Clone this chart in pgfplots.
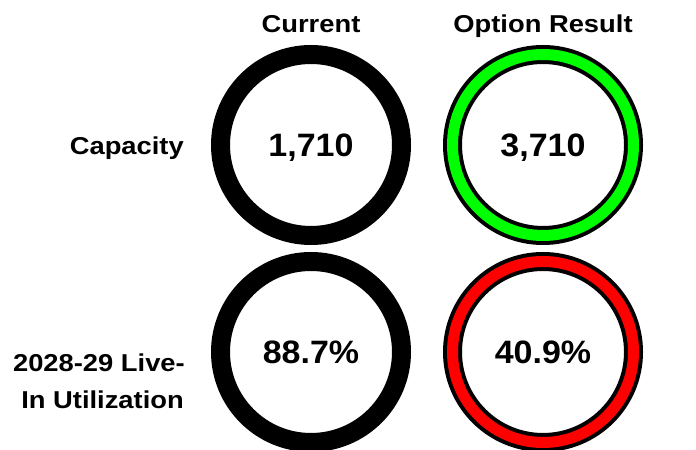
\documentclass[border=0pt]{standalone}
\usepackage{pgfplots}
\pgfplotsset{compat=1.18}
\usepackage{fontspec}
\setmainfont{Liberation Sans}[FakeStretch=1.12]
\newfontfamily\valfont{Liberation Sans}[FakeStretch=1.05]
\definecolor{ringgreen}{RGB}{0,255,0}
\definecolor{ringred}{RGB}{255,0,0}
\begin{document}
\begin{tikzpicture}
\begin{axis}[
  width=696bp, height=450bp, scale only axis,
  xmin=0, xmax=696, ymin=0, ymax=450, y dir=reverse,
  hide axis, clip marker paths=true,
]
% full black rings (outer radius 100, inner radius 81)
\addplot[only marks, mark=o, mark size=90.5bp,
  mark options={solid, draw=black, fill=none, line width=19bp}]
  coordinates {(311,145) (543,145) (311,352) (543,352)};
% coloured bands inside the option rings
\addplot[only marks, mark=o, mark size=90.5bp,
  mark options={solid, draw=ringgreen, fill=none, line width=11bp}]
  coordinates {(543,145)};
\addplot[only marks, mark=o, mark size=90.5bp,
  mark options={solid, draw=ringred, fill=none, line width=11bp}]
  coordinates {(543,352)};
% values
\addplot[only marks, mark=*, mark size=0pt,
  point meta=explicit symbolic, nodes near coords,
  every node near coord/.append style={anchor=base, yshift=-12bp,
    font=\valfont\bfseries\fontsize{32.5}{36}\selectfont, text=black}]
  coordinates {(311,145) [1,710] (543,145) [3,710] (311,352) [88.7\%] (543,352) [40.9\%]};
% headers and row labels
\node[anchor=base, font=\bfseries\fontsize{24.5}{28}\selectfont] at (axis cs:311,33) {Current};
\node[anchor=base, font=\bfseries\fontsize{24.5}{28}\selectfont] at (axis cs:543,33) {Option Result};
\node[anchor=base east, inner sep=0pt, font=\bfseries\fontsize{24.5}{28}\selectfont] at (axis cs:184,155) {Capacity};
\node[anchor=base east, inner sep=0pt, font=\bfseries\fontsize{24.5}{28}\selectfont] at (axis cs:185,372) {2028-29 Live-};
\node[anchor=base east, inner sep=0pt, font=\bfseries\fontsize{24.5}{28}\selectfont] at (axis cs:184,409) {In Utilization};
\end{axis}
\pgfresetboundingbox
\useasboundingbox (current axis.south west) rectangle (current axis.north east);
\end{tikzpicture}
\end{document}
